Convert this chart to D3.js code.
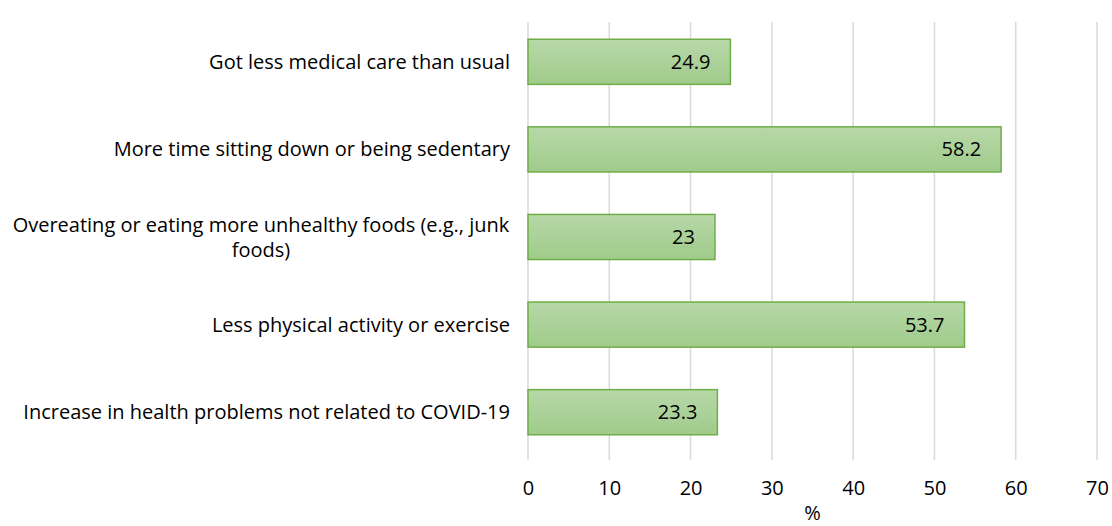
<!DOCTYPE html>
<html><head><meta charset="utf-8">
<script src="https://cdn.jsdelivr.net/npm/d3@7"></script>
<style>body{margin:0;background:#fff}text{font-family:"Open Sans","Liberation Sans",sans-serif}</style>
</head><body><svg id="c" width="1112" height="526"></svg>
<script>
const categories = [
  "Got less medical care than usual",
  "More time sitting down or being sedentary",
  "Overeating or eating more unhealthy foods (e.g., junk foods)",
  "Less physical activity or exercise",
  "Increase in health problems not related to COVID-19"
];
const values = [24.9, 58.2, 23, 53.7, 23.3];
const ticks = [0,10,20,30,40,50,60,70];
const axisTitle = "%";

const FS = 20;
const svg = d3.select("#c");
const m = {left:528, right:1097, top:18, bottom:456};
const x = d3.scaleLinear().domain([0,70]).range([m.left, m.right]);
const y = d3.scaleBand().domain(categories).range([m.top, m.bottom]).paddingInner(0.485).paddingOuter(0.2425);

const defs = svg.append("defs");
const g = defs.append("linearGradient").attr("id","gr").attr("x1",0).attr("y1",0).attr("x2",0).attr("y2",1);
g.append("stop").attr("offset","0%").attr("stop-color","#b7d8a8");
g.append("stop").attr("offset","100%").attr("stop-color","#a0cb8b");

// gridlines
svg.append("g").selectAll("line").data(ticks).join("line")
  .attr("x1",d=>x(d)).attr("x2",d=>x(d)).attr("y1",22).attr("y2",460)
  .attr("stroke","#d9d9d9").attr("stroke-width",1.5);

// bars
svg.append("g").selectAll("rect").data(values).join("rect")
  .attr("x",x(0)).attr("y",(d,i)=>y(categories[i]))
  .attr("width",d=>x(d)-x(0)).attr("height",y.bandwidth())
  .attr("fill","url(#gr)").attr("stroke","#70ad47").attr("stroke-width",1.5);

// value labels
svg.append("g").selectAll("text").data(values).join("text")
  .attr("x",d=>x(d)-20).attr("y",(d,i)=>y(categories[i])+y.bandwidth()/2)
  .attr("dy","0.35em").attr("text-anchor","end")
  .attr("font-size",FS).attr("fill","#000").text(d=>d);

// category labels
const lab = svg.append("g");
categories.forEach((c,i)=>{
  const cy = y(c)+y.bandwidth()/2;
  let lines = [c];
  if (c.startsWith("Overeating")) lines = ["Overeating or eating more unhealthy foods (e.g., junk","foods)"];
  const t = lab.append("text").attr("font-size",FS).attr("fill","#000").attr("text-anchor","middle");
  if (lines.length===1){
    t.attr("x",510).attr("text-anchor","end").attr("y",cy).attr("dy","0.35em").text(lines[0]);
  } else {
    const cx = 261;
    lines.forEach((l,k)=>{
      t.append("tspan").attr("x",cx).attr("y",cy + (k-0.5)*25).attr("dy","0.35em").text(l);
    });
  }
});

// axis tick labels
const ax = svg.append("g").attr("transform","translate(0,481)")
  .call(d3.axisBottom(x).tickValues(ticks).tickSize(0).tickPadding(0));
ax.select(".domain").remove();
ax.selectAll("text").attr("font-size",FS).attr("fill","#000").attr("font-family","'Open Sans','Liberation Sans',sans-serif").attr("dy","0.71em");

svg.append("text").attr("x",(x(0)+x(70))/2).attr("y",520).attr("text-anchor","middle")
  .attr("font-size",FS).attr("fill","#000").text(axisTitle);
</script></body></html>
